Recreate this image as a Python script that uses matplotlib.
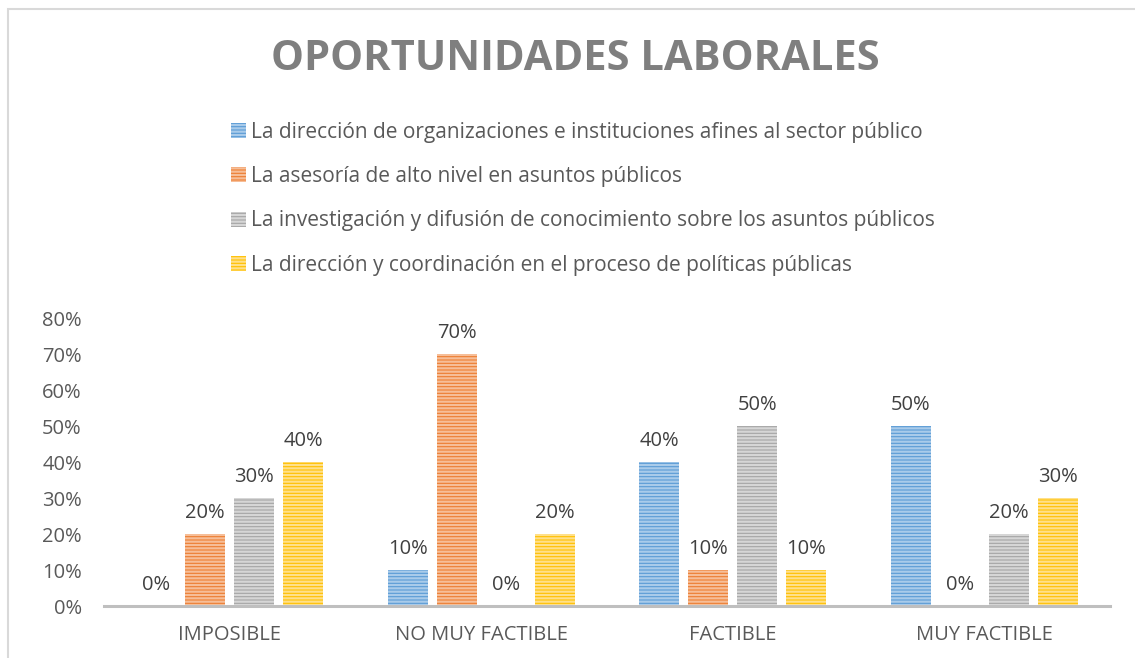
import numpy as np
import matplotlib
matplotlib.use("Agg")
from matplotlib import pyplot as plt
from matplotlib.patches import Rectangle

plt.rcParams['font.family'] = ['Open Sans', 'DejaVu Sans']
plt.rcParams['hatch.linewidth'] = 1.6

# data
categories = ["IMPOSIBLE", "NO MUY FACTIBLE", "FACTIBLE", "MUY FACTIBLE"]
series_names = [
    "La dirección de organizaciones e instituciones afines al sector público",
    "La asesoría de alto nivel en asuntos públicos",
    "La investigación y difusión de conocimiento sobre los asuntos públicos",
    "La dirección y coordinación en el proceso de políticas públicas",
]
direccion = [0.0, 0.10, 0.40, 0.50]
asesoria = [0.20, 0.70, 0.10, 0.0]
investigacion = [0.30, 0.0, 0.50, 0.20]
coordinacion = [0.40, 0.20, 0.10, 0.30]
yticks = [0, 0.1, 0.2, 0.3, 0.4, 0.5, 0.6, 0.7, 0.8]

colors = ["#5B9BD5", "#ED7D31", "#A5A5A5", "#FFC000"]
stripe = ["#A9CBEA", "#F6BE98", "#D6D6D6", "#FFE08A"]

W, H = 1135, 658
fig = plt.figure(figsize=(W / 100, H / 100), dpi=100)

# chart border (cropped at right/bottom in reference)
fig.patches.append(Rectangle((8 / W, -0.05), 1.2, 1 - 9 / H + 0.05, transform=fig.transFigure,
                             fill=False, edgecolor="#D9D9D9", linewidth=1.5))

ax = fig.add_axes([104 / W, (H - 606) / H, (1110 - 104) / W, (606 - 318) / H])

x = np.arange(len(categories))
step = 0.195
width = 0.16
all_series = [direccion, asesoria, investigacion, coordinacion]
for i, vals in enumerate(all_series):
    pos = x + (i - 1.5) * step
    ax.bar(pos, vals, width, color=colors[i], edgecolor=stripe[i],
           linewidth=0, hatch="-----", label=series_names[i])
    for p, v in zip(pos, vals):
        ax.text(p, v + 0.03, f"{v * 100:.0f}%", ha="center", va="bottom",
                fontsize=14.5, color="#404040")

ax.set_xlim(-0.5, 3.5)
ax.set_ylim(0, 0.8)
ax.set_yticks(yticks)
ax.set_yticklabels([f"{t * 100:.0f}%" for t in yticks])
ax.set_xticks(x)
ax.set_xticklabels(categories)
ax.tick_params(axis="both", length=0, labelsize=14.5, colors="#595959")
ax.tick_params(axis="y", pad=16)
ax.tick_params(axis="x", pad=14)
for s in ["top", "right", "left"]:
    ax.spines[s].set_visible(False)
ax.spines["bottom"].set_color("#BFBFBF")
ax.spines["bottom"].set_linewidth(2.2)

fig.text(575 / W, 1 - 60 / H, "OPORTUNIDADES LABORALES", ha="center", va="center",
         fontsize=30, fontweight="bold", color="#7F7F7F")

handles, labels = ax.get_legend_handles_labels()
fig.legend(handles, labels, loc="upper left", bbox_to_anchor=(212 / W, 1 - 103 / H),
           frameon=False, fontsize=15, labelcolor="#595959", handlelength=0.75,
           handleheight=0.75, handletextpad=0.2, labelspacing=1.12)

fig.savefig("out.png", dpi=100, facecolor="white")
